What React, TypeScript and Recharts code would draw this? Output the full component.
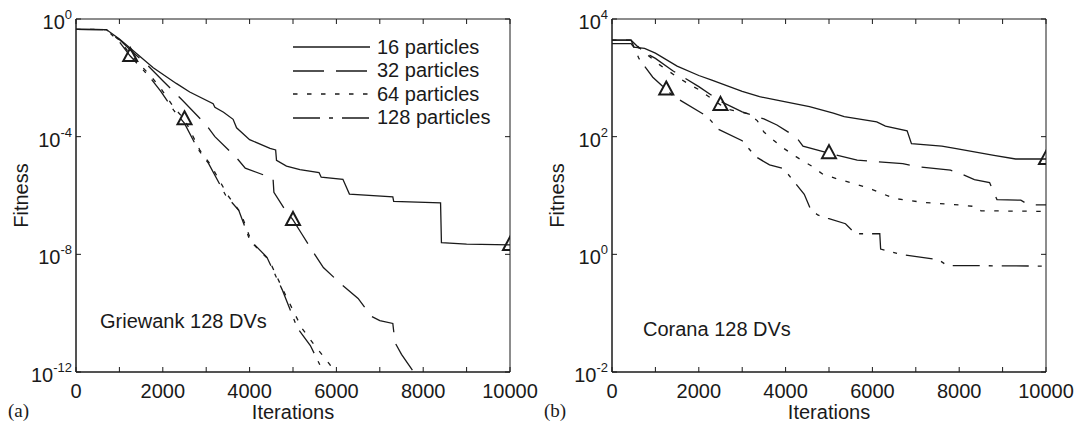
import React from 'react';
import { ComposedChart, Line, XAxis, YAxis, ReferenceArea, Legend } from 'recharts';

// ---------------- data ----------------
const iterTicks = [0, 1000, 2000, 3000, 4000, 5000, 6000, 7000, 8000, 9000, 10000];
const griewankTicks = [1e-12, 1e-8, 1e-4, 1];
const coranaTicks = [1e-2, 1, 1e2, 1e4];
const seriesNames = ['16 particles', '32 particles', '64 particles', '128 particles'];

// Griewank 128 DVs
const g16Iter = [0, 700, 1000, 1320, 1780, 2310, 2620, 3160, 3200, 3400, 3620, 3700, 4000, 4470, 4600, 4620, 4850, 5160, 5600, 5650, 6150, 6300, 7300, 7320, 8400, 8420, 9000, 10000];
const g16Fit = [4.47e-1, 4.37e-1, 2.09e-1, 8.32e-2, 2.19e-2, 6.46e-3, 3.31e-3, 1.32e-3, 1.0e-3, 6.76e-4, 3.89e-4, 2.0e-4, 7.94e-5, 3.98e-5, 3.55e-5, 1.58e-5, 1.0e-5, 7.59e-6, 6.03e-6, 4.17e-6, 3.55e-6, 1.12e-6, 8.91e-7, 6.31e-7, 5.62e-7, 2.51e-8, 2.24e-8, 2.09e-8];
const g32Iter = [0, 700, 1000, 1300, 1600, 2000, 2430, 3000, 3200, 3700, 3900, 4540, 4560, 4800, 5000, 5200, 5500, 5700, 6100, 6500, 6800, 7000, 7300, 7350, 7500, 7780];
const g32Fit = [4.47e-1, 4.37e-1, 2.0e-1, 7.59e-2, 3.16e-2, 7.94e-3, 1.86e-3, 2.51e-4, 1.0e-4, 1.91e-5, 8.51e-6, 3.8e-6, 1.29e-6, 3.55e-7, 1.48e-7, 5.01e-8, 1.0e-8, 3.55e-9, 1.0e-9, 3.16e-10, 7.94e-11, 5.62e-11, 4.47e-11, 1.0e-11, 3.98e-12, 1.0e-12];
const g64Iter = [0, 700, 1000, 1250, 1700, 1950, 2250, 2500, 2850, 3100, 3500, 3800, 4050, 4450, 4800, 5200, 5500, 5850, 5950];
const g64Fit = [4.47e-1, 4.37e-1, 1.91e-1, 6.31e-2, 1.26e-2, 4.47e-3, 1.0e-3, 3.89e-4, 3.55e-5, 1.12e-5, 1.0e-6, 2.51e-7, 2.51e-8, 6.31e-9, 5.01e-10, 3.16e-11, 7.94e-12, 1.78e-12, 1.0e-12];
const g128Iter = [0, 700, 1000, 1250, 1700, 1950, 2250, 2500, 2800, 3050, 3450, 3750, 4000, 4400, 4750, 5100, 5400, 5700];
const g128Fit = [4.47e-1, 4.37e-1, 1.66e-1, 5.5e-2, 1.05e-2, 3.55e-3, 7.94e-4, 2.82e-4, 3.98e-5, 1.26e-5, 1.0e-6, 3.16e-7, 3.16e-8, 7.94e-9, 6.31e-10, 3.16e-11, 7.94e-12, 1.0e-12];
const gMarkIter = [1250, 2500, 5000, 10000];
const gMarkFit = [5.5e-2, 3.89e-4, 1.48e-7, 2.09e-8];

// Corana 128 DVs
const c16Iter = [0, 440, 500, 750, 1000, 1500, 2000, 2300, 3000, 3400, 3800, 4550, 5100, 5350, 6100, 6300, 6800, 6900, 7600, 7900, 8800, 9300, 10000];
const c16Fit = [3800, 3800, 3311, 3162, 2630, 1585, 1096, 912, 589, 479, 417, 324, 251, 219, 178, 151, 126, 75.9, 69.2, 63.1, 47.9, 41.7, 41.7];
const c32Iter = [0, 440, 700, 1000, 1400, 2000, 2500, 3000, 3500, 3800, 4250, 4400, 5000, 5650, 6700, 7050, 7800, 8100, 8350, 8700, 8870, 9420, 9600, 10000];
const c32Fit = [4365, 4365, 2818, 2138, 1318, 708, 398, 263, 200, 158, 97.7, 69.2, 52.5, 39.8, 34.7, 30.9, 26.9, 22.4, 18.6, 16.6, 8.51, 8.32, 6.92, 6.92];
const c64Iter = [0, 440, 800, 1100, 1450, 1800, 2000, 2500, 2650, 3150, 3350, 3500, 3900, 4240, 4600, 4860, 5200, 5600, 6000, 6500, 7200, 8000, 8400, 8500, 10000];
const c64Fit = [4365, 4365, 2512, 1660, 1096, 759, 631, 347, 295, 245, 186, 120, 67.6, 45.7, 31.6, 22.9, 19.1, 15.8, 12.6, 8.91, 7.59, 6.92, 6.46, 5.5, 5.37];
const c128Iter = [0, 440, 620, 940, 1250, 1410, 2200, 2440, 3000, 3310, 3630, 3950, 4430, 4580, 4740, 4980, 5380, 5610, 6170, 6190, 6640, 7520, 7720, 10000];
const c128Fit = [4365, 4365, 2138, 1023, 631, 490, 219, 135, 85.1, 45.7, 33.1, 28.8, 10.5, 5.75, 4.68, 4.07, 3.31, 2.24, 2.24, 1.23, 1.0, 0.813, 0.646, 0.631];
const cMarkIter = [1250, 2500, 5000, 10000];
const cMarkFit = [631, 347, 52.5, 41.7];

// ---------------- styling ----------------
const FONT = '"Liberation Sans", Arial, Helvetica, sans-serif';
const INK = '#1a1a1a';
const CHART_W = 540;
const CHART_H = 423;
const MARGIN = { top: 19, right: 30, bottom: 0, left: 0 };
const Y_AXIS_W = 76;
const X_AXIS_H = 51;
const PLOT_W = CHART_W - MARGIN.left - MARGIN.right - Y_AXIS_W;
const PLOT_H = CHART_H - MARGIN.top - MARGIN.bottom - X_AXIS_H;
const DASHES = [undefined, '31 12', '4.5 9.5', '27 9 4 9'];

const zip = (xs: number[], ys: number[]) => xs.map((x, i) => ({ iter: x, fitness: ys[i] }));

const XTick = (props: any) => {
  const { x, y, payload } = props;
  const v = payload.value;
  return (
    <g>
      <line x1={x} y1={y} x2={x} y2={y - 5} stroke={INK} strokeWidth={1} />
      <line x1={x} y1={y - PLOT_H} x2={x} y2={y - PLOT_H + 5} stroke={INK} strokeWidth={1} />
      {v % 2000 === 0 && (
        <text x={x} y={y + 26} textAnchor="middle" fontFamily={FONT} fontSize={20} fill={INK}>
          {v}
        </text>
      )}
    </g>
  );
};

const YTick = (props: any) => {
  const { x, y, payload } = props;
  const exp = Math.round(Math.log10(payload.value));
  return (
    <g>
      <line x1={x} y1={y} x2={x + 5} y2={y} stroke={INK} strokeWidth={1} />
      <line x1={x + PLOT_W} y1={y} x2={x + PLOT_W - 5} y2={y} stroke={INK} strokeWidth={1} />
      <text x={x - 4} y={y + 10} textAnchor="end" fontFamily={FONT} fontSize={20} fill={INK}>
        10
        <tspan dy={-10} fontSize={13}>{String(exp)}</tspan>
      </text>
    </g>
  );
};

const triangleDot = (p: any) => {
  const { cx, cy, index } = p;
  if (cx == null || cy == null) return <g key={`t${index}`} />;
  return (
    <path
      key={`t${index}`}
      d={`M${cx} ${cy - 8} L${cx + 7} ${cy + 5} L${cx - 7} ${cy + 5} Z`}
      fill="none"
      stroke={INK}
      strokeWidth={2}
    />
  );
};

const renderLegend = (props: any) => {
  const items = (props.payload || [])
    .filter((e: any) => seriesNames.includes(e.value))
    .sort((a: any, b: any) => seriesNames.indexOf(a.value) - seriesNames.indexOf(b.value));
  return (
    <div style={{ fontFamily: FONT, fontSize: 20, color: INK }}>
      {items.map((e: any) => {
        const idx = seriesNames.indexOf(e.value);
        return (
          <div key={e.value} style={{ display: 'flex', alignItems: 'center', height: 23.5, lineHeight: '23.5px', whiteSpace: 'nowrap' }}>
            <svg width={84} height={10} style={{ display: 'block' }}>
              <line x1={0} y1={5} x2={77} y2={5} stroke={INK} strokeWidth={1.3} strokeDasharray={DASHES[idx]} />
            </svg>
            <span>{e.value}</span>
          </div>
        );
      })}
    </div>
  );
};

type PanelProps = {
  left: number;
  series: { iter: number; fitness: number }[][];
  markers: { iter: number; fitness: number }[];
  yDomain: [number, number];
  yTicks: number[];
  caption: string;
  captionX: number;
  captionY: number;
  letter: string;
  showLegend: boolean;
};

function Panel({ left, series, markers, yDomain, yTicks, caption, captionX, captionY, letter, showLegend }: PanelProps) {
  return (
    <div style={{ position: 'absolute', left, top: 0, width: CHART_W, height: CHART_H }}>
      <ComposedChart width={CHART_W} height={CHART_H} margin={MARGIN}>
        <XAxis
          type="number"
          dataKey="iter"
          domain={[0, 10000]}
          ticks={iterTicks}
          interval={0}
          allowDataOverflow
          height={X_AXIS_H}
          tickSize={0}
          tickMargin={0}
          tickLine={false}
          axisLine={{ stroke: INK, strokeWidth: 1 }}
          tick={<XTick />}
          label={{ value: 'Iterations', position: 'insideBottom', offset: 4, fill: INK, fontSize: 20, fontFamily: FONT }}
        />
        <YAxis
          type="number"
          dataKey="fitness"
          scale="log"
          domain={yDomain}
          ticks={yTicks}
          interval={0}
          allowDataOverflow
          width={Y_AXIS_W}
          tickSize={0}
          tickMargin={0}
          tickLine={false}
          axisLine={{ stroke: INK, strokeWidth: 1 }}
          tick={<YTick />}
          label={{ value: 'Fitness', angle: -90, position: 'insideLeft', offset: 21, fill: INK, fontSize: 20, fontFamily: FONT, style: { textAnchor: 'middle' } }}
        />
        <ReferenceArea x1={0} x2={10000} y1={yDomain[0]} y2={yDomain[1]} fill="none" stroke={INK} strokeWidth={1} ifOverflow="visible" />
        {series.map((d, i) => (
          <Line
            key={seriesNames[i]}
            name={seriesNames[i]}
            data={d}
            dataKey="fitness"
            type="linear"
            stroke={INK}
            strokeWidth={1.3}
            strokeDasharray={DASHES[i]}
            dot={false}
            activeDot={false}
            isAnimationActive={false}
          />
        ))}
        <Line
          name="markers"
          data={markers}
          dataKey="fitness"
          stroke="none"
          dot={triangleDot}
          activeDot={false}
          legendType="none"
          isAnimationActive={false}
        />
        {showLegend && (
          <Legend
            layout="vertical"
            align="center"
            verticalAlign="middle"
            content={renderLegend}
            wrapperStyle={{ left: 293, top: 35.5, width: 230, height: 94, margin: 0 }}
          />
        )}
      </ComposedChart>
      <div
        style={{
          position: 'absolute',
          left: captionX,
          top: captionY - 11,
          fontFamily: FONT,
          fontSize: 20,
          lineHeight: '22px',
          color: INK,
          whiteSpace: 'nowrap',
        }}
      >
        {caption}
      </div>
      <div
        style={{
          position: 'absolute',
          left: 8,
          top: 401,
          fontFamily: '"Liberation Serif", "Times New Roman", serif',
          fontSize: 19,
          lineHeight: '20px',
          color: INK,
        }}
      >
        {letter}
      </div>
    </div>
  );
}

export default function App() {
  const gSeries = [zip(g16Iter, g16Fit), zip(g32Iter, g32Fit), zip(g64Iter, g64Fit), zip(g128Iter, g128Fit)];
  const cSeries = [zip(c16Iter, c16Fit), zip(c32Iter, c32Fit), zip(c64Iter, c64Fit), zip(c128Iter, c128Fit)];
  return (
    <div style={{ position: 'absolute', left: 0, top: 0, width: 1076, height: 423, background: '#fff', overflow: 'hidden' }}>
      <Panel
        left={0}
        series={gSeries}
        markers={zip(gMarkIter, gMarkFit)}
        yDomain={[1e-12, 1]}
        yTicks={griewankTicks}
        caption="Griewank 128 DVs"
        captionX={100}
        captionY={321}
        letter="(a)"
        showLegend
      />
      <Panel
        left={536}
        series={cSeries}
        markers={zip(cMarkIter, cMarkFit)}
        yDomain={[1e-2, 1e4]}
        yTicks={coranaTicks}
        caption="Corana 128 DVs"
        captionX={107}
        captionY={329}
        letter="(b)"
        showLegend={false}
      />
    </div>
  );
}
